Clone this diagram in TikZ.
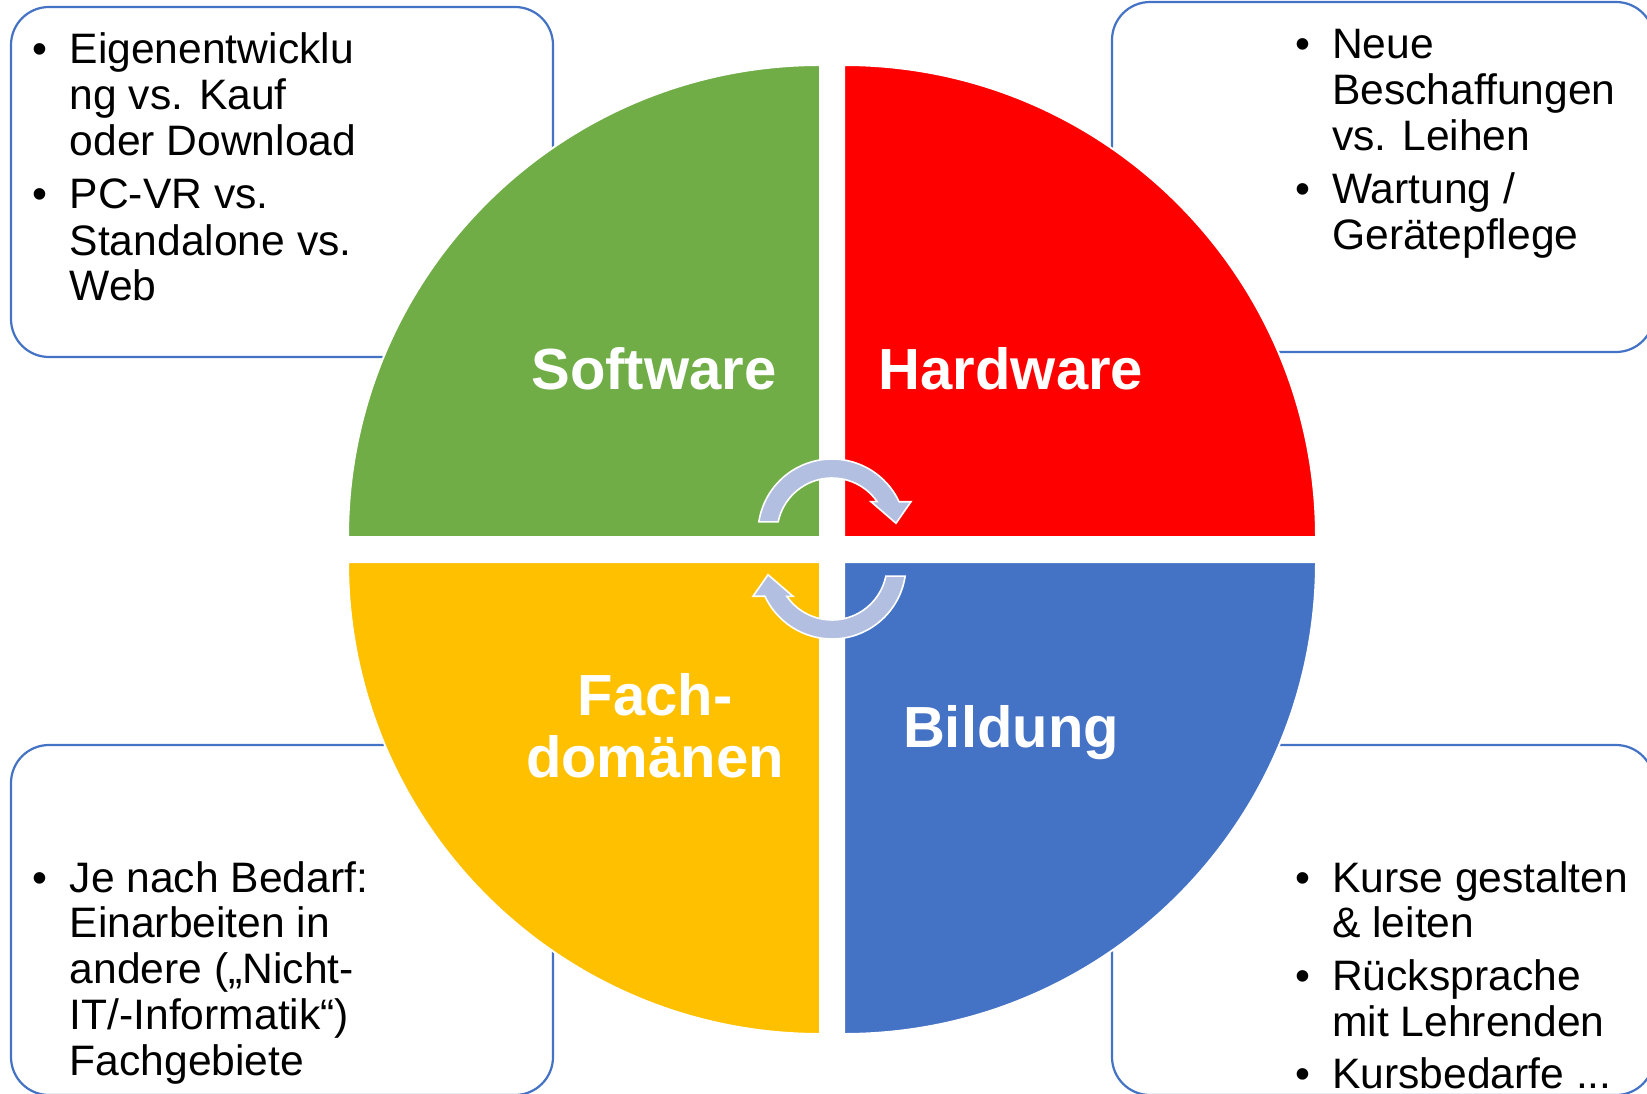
\documentclass[tikz,border=0pt]{standalone}
\usepackage{fontspec}
\setmainfont{Liberation Sans}
\usetikzlibrary{calc}
\definecolor{qgreen}{HTML}{70AD47}
\definecolor{qred}{HTML}{FF0000}
\definecolor{qyellow}{HTML}{FFC000}
\definecolor{qblue}{HTML}{4472C4}
\definecolor{boxblue}{HTML}{4472C4}
\definecolor{arrowfill}{RGB}{178,191,225}
\tikzset{
  infobox/.style={draw=boxblue, line width=2.2pt, fill=white, rounded corners=38pt,
    minimum width=542pt, minimum height=350pt, anchor=north west, inner sep=0pt, outer sep=0pt},
  quadrant/.style={draw=white, line width=2pt},
  cyclearrow/.style={fill=arrowfill, draw=white, line width=1.6pt, line join=miter},
  itemtext/.style={anchor=base west, inner sep=0pt, font=\fontsize{42.6}{46}\selectfont},
  segtitle/.style={anchor=base, inner sep=0pt, text=white, font=\fontsize{58}{62}\selectfont\bfseries},
}
\begin{document}
\begin{tikzpicture}[x=1pt, y=-1pt]
\useasboundingbox (0,0) rectangle (1647,1094);
\clip (0,0) rectangle (1647,1094);

% corner boxes with the bullet lists
\node[infobox] (swbox) at (11,7) {};
\node[infobox] (hwbox) at (1112,2) {};
\node[infobox] (fdbox) at (11,745) {};
\node[infobox] (bdbox) at (1112,745) {};

% four quarter discs
\filldraw[quadrant, fill=qgreen]  (820,537) -- (348,537) arc[start angle=180, end angle=270, radius=472] -- cycle;
\filldraw[quadrant, fill=qred]    (844,537) -- (844,65) arc[start angle=270, end angle=360, radius=472] -- cycle;
\filldraw[quadrant, fill=qyellow] (820,562) -- (348,562) arc[start angle=180, end angle=90, radius=472] -- cycle;
\filldraw[quadrant, fill=qblue]   (844,562) -- (1316,562) arc[start angle=0, end angle=90, radius=472] -- cycle;

% segment titles
\node[segtitle] (tsw) at (654,389) {Software};
\node[segtitle] (thw) at (1011,389) {Hardware};
\node[segtitle] (tfd1) at (655,715) {Fach-};
\node[segtitle] (tfd2) at (655,777) {domänen};
\node[segtitle] (tbd) at (1011,747) {Bildung};

% circular arrows in the middle
\filldraw[cyclearrow] ([shift={(832,533)}]188.6:74) arc[start angle=188.6, end angle=335, radius=74]
  -- (911,501.7) -- (896,523.3) -- (871,501.7) -- ([shift={(832,533)}]325.3:55)
  arc[start angle=325.3, end angle=191.6, radius=55] -- cycle;
\begin{scope}[rotate around={180:(832,549)}]
\filldraw[cyclearrow] ([shift={(832,533)}]188.6:74) arc[start angle=188.6, end angle=335, radius=74]
  -- (911,501.7) -- (896,523.3) -- (871,501.7) -- ([shift={(832,533)}]325.3:55)
  arc[start angle=325.3, end angle=191.6, radius=55] -- cycle;
\end{scope}

% Software list
\node[itemtext] (swb1) at (32.5,64) {•};
\node[itemtext] (sw1) at (69.5,64) {Eigenentwicklu};
\node[itemtext] (sw2) at (69.5,110) {ng vs. Kauf};
\node[itemtext] (sw3) at (69.5,156) {oder Download};
\node[itemtext] (swb2) at (32.5,209) {•};
\node[itemtext] (sw4) at (69.5,209) {PC-VR vs.};
\node[itemtext] (sw5) at (69.5,255) {Standalone vs.};
\node[itemtext] (sw6) at (69.5,301) {Web};

% Hardware list
\node[itemtext] (hwb1) at (1295,59) {•};
\node[itemtext] (hw1) at (1332,59) {Neue};
\node[itemtext] (hw2) at (1332,105) {Beschaffungen};
\node[itemtext] (hw3) at (1332,151) {vs. Leihen};
\node[itemtext] (hwb2) at (1295,204) {•};
\node[itemtext] (hw4) at (1332,204) {Wartung /};
\node[itemtext] (hw5) at (1332,250) {Gerätepflege};

% Fachdomaenen list
\node[itemtext] (fdb1) at (32.5,892) {•};
\node[itemtext] (fd1) at (69.5,892) {Je nach Bedarf:};
\node[itemtext] (fd2) at (69.5,937) {Einarbeiten in};
\node[itemtext] (fd3) at (69.5,983) {andere („Nicht-};
\node[itemtext] (fd4) at (69.5,1029) {IT/-Informatik“)};
\node[itemtext] (fd5) at (69.5,1075) {Fachgebiete};

% Bildung list
\node[itemtext] (bdb1) at (1295,892) {•};
\node[itemtext] (bd1) at (1332,892) {Kurse gestalten};
\node[itemtext] (bd2) at (1332,937) {\& leiten};
\node[itemtext] (bdb2) at (1295,990) {•};
\node[itemtext] (bd3) at (1332,990) {Rücksprache};
\node[itemtext] (bd4) at (1332,1036) {mit Lehrenden};
\node[itemtext] (bdb3) at (1295,1088) {•};
\node[itemtext] (bd5) at (1332,1088) {Kursbedarfe ...};
\end{tikzpicture}
\end{document}
